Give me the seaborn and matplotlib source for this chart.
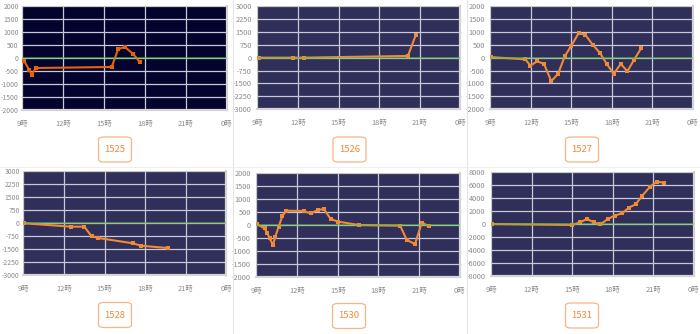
import matplotlib
matplotlib.use("Agg")
import matplotlib.pyplot as plt
import seaborn as sns
import pandas as pd
from matplotlib.patches import FancyBboxPatch
from matplotlib.lines import Line2D

sns.set_theme(style="white")
plt.rcParams['font.family'] = ['Noto Sans CJK JP', 'DejaVu Sans']

# ---------------- data ----------------
codes = ["1525", "1526", "1527", "1528", "1530", "1531"]

hours_1525 = [9.15, 9.5, 9.69, 10.0, 15.56, 16.04, 16.53, 17.14, 17.64]
pnl_1525 = [-130, -450, -642, -385, -346, 346, 423, 154, -168]

hours_1526 = [9.1, 11.64, 12.45, 20.13, 20.7]
pnl_1526 = [0, 0, 0, 100, 1297]

hours_1527 = [9.07, 11.6, 11.97, 12.48, 12.98, 13.52, 14.02, 14.52, 15.0, 15.55,
              16.04, 16.59, 17.13, 17.63, 18.15, 18.67, 19.16, 19.65, 20.19]
pnl_1527 = [20, -65, -308, -142, -242, -912, -627, 50, 462, 950,
            885, 500, 180, -242, -627, -242, -527, -88, 373]

hours_1528 = [9.07, 12.5, 13.51, 14.05, 14.54, 17.13, 17.67, 19.67]
pnl_1528 = [0, -193, -193, -752, -848, -1157, -1292, -1427]

hours_1530 = [9.07, 9.61, 9.81, 9.98, 10.23, 10.4, 10.65, 10.92, 11.21, 12.49, 13.0,
              13.55, 13.99, 14.48, 15.04, 16.57, 19.61, 20.1, 20.7, 21.21, 21.7]
pnl_1530 = [26, -128, -320, -513, -769, -449, -64, 346, 551, 538, 449,
            577, 615, 231, 128, 0, -26, -577, -731, 90, -38]

hours_1531 = [9.07, 15.02, 15.57, 16.12, 16.6, 17.1, 17.65, 18.14, 18.7, 19.2,
              19.7, 20.2, 20.77, 21.27, 21.77]
pnl_1531 = [0, -154, 256, 769, 256, -51, 769, 1282, 1641, 2513,
            3025, 4359, 5744, 6513, 6359]

x_ticks = [9, 12, 15, 18, 21, 24]
x_labels = ["9時", "12時", "15時", "18時", "21時", "0時"]

y_ticks_2000 = [2000, 1500, 1000, 500, 0, -500, -1000, -1500, -2000]
y_ticks_3000 = [3000, 2250, 1500, 750, 0, -750, -1500, -2250, -3000]
y_ticks_8000 = [8000, 6000, 4000, 2000, 0, -2000, -4000, -6000, -8000]

series = [
    (hours_1525, pnl_1525, y_ticks_2000),
    (hours_1526, pnl_1526, y_ticks_3000),
    (hours_1527, pnl_1527, y_ticks_2000),
    (hours_1528, pnl_1528, y_ticks_3000),
    (hours_1530, pnl_1530, y_ticks_2000),
    (hours_1531, pnl_1531, y_ticks_8000),
]

# ---------------- layout (pixels) ----------------
W, H = 700, 334
# (x_left, x_right, y_top, y_bottom) in pixels
boxes = [
    (22.3, 226.7, 6, 110),
    (257.3, 460.3, 6, 109.3),
    (490.3, 692.7, 6, 109.3),
    (23.3, 226.3, 171.3, 275.3),
    (256.3, 459.7, 173, 277),
    (491, 693.7, 172, 276),
]
label_centers = [(115, 149.5), (349.5, 149.5), (582, 149.5),
                 (115, 315), (349, 316), (582, 315.5)]

fig = plt.figure(figsize=(W / 100, H / 100), dpi=100)
fig.patch.set_facecolor("white")

# separators
fig.add_artist(Line2D([232.5 / W, 232.5 / W], [0, 1], color="#e4e4e4", lw=0.8))
fig.add_artist(Line2D([466.5 / W, 466.5 / W], [0, 1], color="#e4e4e4", lw=0.8))
fig.add_artist(Line2D([0, 1], [1 - 166.5 / H, 1 - 166.5 / H], color="#ececec", lw=0.6))

for i, (code, (hrs, vals, yt), (xl, xr, yt_px, yb_px), (cx, cy)) in enumerate(
        zip(codes, series, boxes, label_centers)):
    ax = fig.add_axes([xl / W, 1 - yb_px / H, (xr - xl) / W, (yb_px - yt_px) / H])
    bg = "#03032e" if i == 0 else "#2f2f5a"
    line_color = "#e8620c" if i == 0 else "#f08a35"
    zero_color = "#44d044" if i == 0 else "#5ec24a"
    ax.set_facecolor(bg)
    df = pd.DataFrame({"hour": hrs, "pnl": vals})
    sns.lineplot(data=df, x="hour", y="pnl", ax=ax, color=line_color, lw=1.5,
                 marker="s", markersize=2.6, markeredgewidth=0, zorder=3)
    ax.axhline(0, color=zero_color, lw=1.2, alpha=0.6, zorder=4)
    ax.set_xlim(9, 24)
    ax.set_yticks(yt)
    ax.set_yticklabels([str(v) for v in yt])
    ax.set_ylim(yt[-1], yt[0])
    ax.set_xticks(x_ticks)
    ax.set_xticklabels(x_labels)
    ax.grid(True, color="#c9c9d6", lw=0.9, zorder=1)
    ax.set_axisbelow(True)
    ax.set_xlabel("")
    ax.set_ylabel("")
    left_col = i in (0, 3)
    ax.tick_params(axis="y", labelsize=4.9 if left_col else 5.3, colors="#8a8a8a",
                   length=1.5 if left_col else 2, width=0.5, pad=1 if left_col else 2)
    ax.tick_params(axis="x", labelsize=5.3, colors="#8a8a8a", length=2,
                   width=0.5, pad=5)
    for s in ["top", "left"]:
        ax.spines[s].set_color("#c8c8c8")
        ax.spines[s].set_linewidth(0.6)
    for s in ["right", "bottom"]:
        ax.spines[s].set_color("#d4d4d4")
        ax.spines[s].set_linewidth(1.6)
    leg = ax.get_legend()
    if leg:
        leg.remove()

    bw, bh = 33, 25
    patch = FancyBboxPatch(((cx - bw / 2) / W, 1 - (cy + bh / 2) / H), bw / W, bh / H,
                           boxstyle="round,pad=0,rounding_size=0.008",
                           transform=fig.transFigure, facecolor="white",
                           edgecolor="#f6b585", lw=0.9)
    fig.add_artist(patch)
    fig.text(cx / W, 1 - cy / H, code, ha="center", va="center",
             fontsize=6.8, color="#f0883a")

fig.savefig("out.png", dpi=100, facecolor="white")
